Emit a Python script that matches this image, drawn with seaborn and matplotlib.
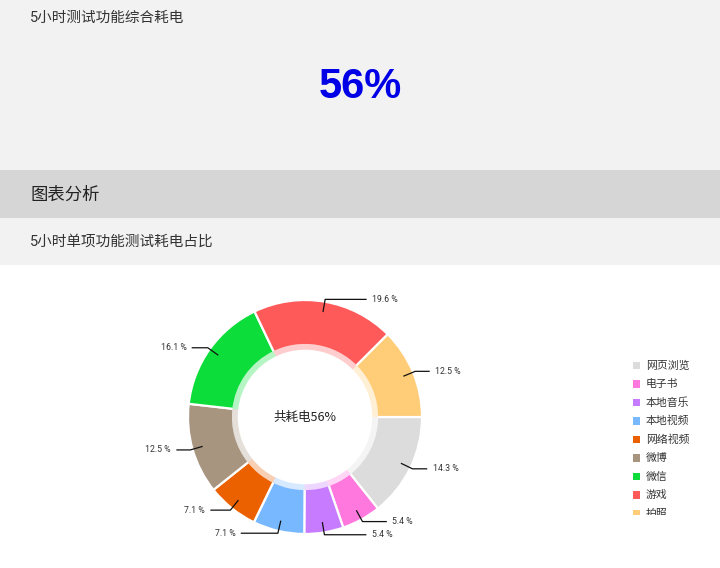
import numpy as np
import matplotlib
matplotlib.use("Agg")
import matplotlib.pyplot as plt
from matplotlib.patches import Rectangle
import seaborn as sns

# ---------------- data ----------------
categories = ["网页浏览", "电子书", "本地音乐", "本地视频", "网络视频", "微博", "微信", "游戏", "拍照"]
shares = [14.3, 5.4, 5.4, 7.1, 7.1, 12.5, 16.1, 19.6, 12.5]
slice_colors = ["#DCDCDC", "#FF78DE", "#C77CFF", "#78B8FF", "#EB6100",
                "#A79580", "#0CDD3B", "#FF5A5A", "#FFCC77"]
header_title = "5小时测试功能综合耗电"
total_value = "56%"
section_title = "图表分析"
chart_title = "5小时单项功能测试耗电占比"
center_text = "共耗电56%"

sns.set_theme(style="white")
plt.rcParams["font.family"] = ["Roboto", "Noto Sans CJK SC", "DejaVu Sans"]
palette = sns.color_palette(slice_colors)

W, H = 720, 568
fig = plt.figure(figsize=(W / 100, H / 100), dpi=100)
fig.patch.set_facecolor("white")


def fy(py):
    return 1 - py / H


def fx(px):
    return px / W


# header bands
for top, bottom, col in [(0, 170, "#F2F2F2"), (170, 218, "#D6D6D6"), (218, 265, "#F2F2F2")]:
    fig.add_artist(Rectangle((0, fy(bottom)), 1, (bottom - top) / H,
                             transform=fig.transFigure, facecolor=col, edgecolor="none", zorder=0))

fig.text(fx(30), fy(18), header_title, fontsize=10.5, color="#333333", va="center", ha="left",
         family=["Roboto", "Noto Sans CJK SC"])
fig.text(fx(360), fy(87), total_value, fontsize=30, color="#0000E6", weight="bold",
         va="center", ha="center", family=["Liberation Sans", "DejaVu Sans"])
fig.text(fx(30), fy(195), section_title, fontsize=12.5, color="#222222", va="center", ha="left",
         family=["Noto Sans CJK SC"])
fig.text(fx(30), fy(242), chart_title, fontsize=10.5, color="#333333", va="center", ha="left",
         family=["Roboto", "Noto Sans CJK SC"])

# ---------------- donut ----------------
cx, cy, half = 305, 417, 150
ax = fig.add_axes([fx(cx - half), fy(cy + half), 2 * half / W, 2 * half / H])
R_px = 117.0
lim = half / R_px

ax.pie(shares, colors=palette, startangle=0, counterclock=False, radius=1.0,
       wedgeprops=dict(width=0.385, edgecolor="white", linewidth=1.6))
# faint translucent inner rim, laid over the inner edge of the solid ring
ax.pie(shares, colors=palette, startangle=0, counterclock=False, radius=0.625,
       wedgeprops=dict(width=0.05, edgecolor="none", linewidth=0, alpha=0.3))
ax.set_xlim(-lim, lim)
ax.set_ylim(-lim, lim)
ax.set_aspect("equal")
ax.axis("off")

ax.text(0, 0, center_text, ha="center", va="center", fontsize=9, color="#222222",
        family=["Noto Sans CJK SC"])

# leader lines & labels
cum = np.cumsum([0] + shares[:-1])
r1, r2, r_end = 0.91, 1.02, 1.135
for start, v in zip(cum, shares):
    theta = np.deg2rad(-(start + v / 2) * 3.6)
    x1, y1 = r1 * np.cos(theta), r1 * np.sin(theta)
    x2, y2 = r2 * np.cos(theta), r2 * np.sin(theta)
    side = 1 if np.cos(theta) >= 0 else -1
    x3 = side * np.sqrt(max(r_end ** 2 - y2 ** 2, x2 ** 2 + 0.01))
    ax.plot([x1, x2, x3], [y1, y2, y2], color="#111111", lw=0.9, solid_capstyle="butt")
    ax.text(x3 + side * 0.045, y2, f"{v} %", fontsize=6.3, color="#333333",
            ha="left" if side > 0 else "right", va="center")

# ---------------- legend (clipped like the reference) ----------------
lx0, ly0, lx1, ly1 = 628, 352, 720, 515
lax = fig.add_axes([fx(lx0), fy(ly1), (lx1 - lx0) / W, (ly1 - ly0) / H])
lax.set_xlim(lx0, lx1)
lax.set_ylim(ly1, ly0)
lax.axis("off")
row_y = 365.5 + 18.5 * np.arange(len(categories))
lax.scatter(np.full(len(categories), 636.5), row_y, marker="s", s=30, c=slice_colors,
            linewidths=0, clip_on=True)
for yy, name in zip(row_y, categories):
    lax.text(646, yy, name, fontsize=7.8, color="#333333", va="center", ha="left",
             family=["Noto Sans CJK SC"], clip_on=True)

fig.savefig("out.png", dpi=100, facecolor=fig.get_facecolor())
